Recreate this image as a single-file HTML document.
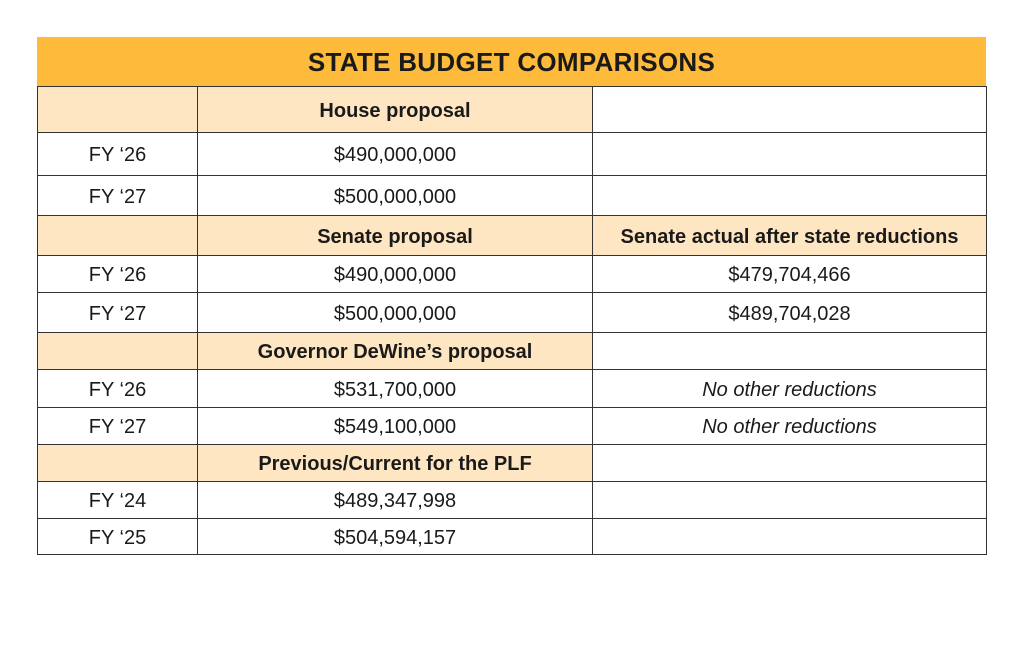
<!DOCTYPE html>
<html><head><style>
body{margin:0;width:1024px;height:653px;background:#fff;position:relative;font-family:"Liberation Sans","DejaVu Sans",sans-serif;color:#1a1a1a;overflow:hidden}
.t{position:absolute;left:37px;top:37px;width:949px;height:49px;background:#FDBA3B;text-align:center;line-height:50px;font-size:26px;font-weight:bold;letter-spacing:0.3px}
.c{position:absolute;box-sizing:border-box;border:1px solid #333;text-align:center;font-size:20px;display:flex;align-items:center;justify-content:center;padding-top:3px}
.h{background:#FFE6C2;font-weight:bold}
.i{font-style:italic}
</style></head><body>
<div class="t">STATE BUDGET COMPARISONS</div>
<div id="g"></div>
<script>
var ys=[86,132,175,215,255,292,332,369,407,444,481,518,554];
var xs=[37,197,592,986];
var rows=[
[["",1],["House proposal",1],["",0]],
[["FY ‘26",0],["$490,000,000",0],["",0]],
[["FY ‘27",0],["$500,000,000",0],["",0]],
[["",1],["Senate proposal",1],["Senate actual after state reductions",1]],
[["FY ‘26",0],["$490,000,000",0],["$479,704,466",0]],
[["FY ‘27",0],["$500,000,000",0],["$489,704,028",0]],
[["",1],["Governor DeWine’s proposal",1],["",0]],
[["FY ‘26",0],["$531,700,000",0],["No other reductions",2]],
[["FY ‘27",0],["$549,100,000",0],["No other reductions",2]],
[["",1],["Previous/Current for the PLF",1],["",0]],
[["FY ‘24",0],["$489,347,998",0],["",0]],
[["FY ‘25",0],["$504,594,157",0],["",0]]];
var h="";
for(var r=0;r<rows.length;r++)for(var c=0;c<3;c++){
var d=rows[r][c];var cl="c"+(d[1]==1?" h":"")+(d[1]==2?" i":"");
h+='<div class="'+cl+'" style="left:'+xs[c]+'px;top:'+ys[r]+'px;width:'+(xs[c+1]-xs[c]+1)+'px;height:'+(ys[r+1]-ys[r]+1)+'px">'+d[0]+'</div>';}
document.getElementById("g").innerHTML=h;
</script>
</body></html>
